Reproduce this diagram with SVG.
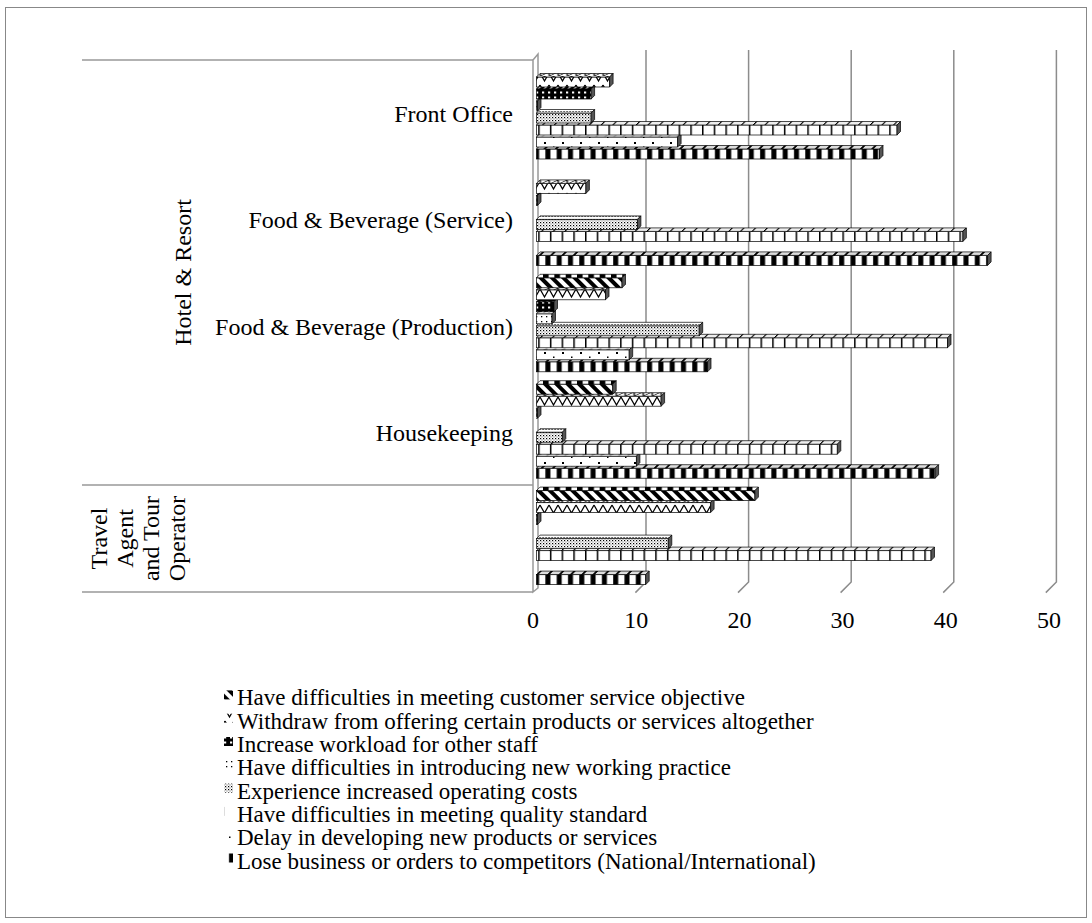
<svg xmlns="http://www.w3.org/2000/svg" width="1092" height="923" viewBox="0 0 1092 923">
<style>
text{font-family:"Liberation Serif","Times New Roman",serif;font-size:24px;fill:#000}
#legend text{font-size:23px}
.ax{stroke:#999;stroke-width:1.5;fill:none}
.grid{stroke:#8c8c8c;stroke-width:1.5;fill:none}
.bars rect,.bars path{stroke:#000;stroke-width:0.7}
.d{fill:#555}
.s1 rect{fill:url(#p1)} .s1 .t{fill:url(#p1t)}
.s2 rect{fill:url(#p2)} .s2 .t{fill:url(#p2t)}
.s3 rect{fill:url(#p3)} .s3 .t{fill:url(#p3t)}
.s4 rect{fill:url(#p4)} .s4 .t{fill:url(#p4t)}
.s5 rect{fill:url(#p5)} .s5 .t{fill:url(#p5t)}
.s6 rect{fill:url(#p6)} .s6 .t{fill:url(#p6t)}
.s7 rect{fill:url(#p7)} .s7 .t{fill:url(#p7t)}
.s8 rect{fill:url(#p8)} .s8 .t{fill:url(#p8t)}
</style>
<defs>
<pattern id="p1" patternUnits="userSpaceOnUse" width="8" height="8" patternTransform="rotate(-45)"><rect width="8" height="8" fill="#fff"/><rect width="4" height="8" fill="#000"/></pattern>
<pattern id="p1t" patternUnits="userSpaceOnUse" width="8" height="8" patternTransform="skewX(-45) rotate(-45)"><rect width="8" height="8" fill="#fff"/><rect width="4" height="8" fill="#000"/></pattern>
<pattern id="p2" patternUnits="userSpaceOnUse" width="9" height="12"><rect width="9" height="12" fill="#fff"/><path d="M0,1 L4.5,9 L9,1" stroke="#000" stroke-width="1.3" fill="none"/></pattern>
<pattern id="p2t" patternUnits="userSpaceOnUse" width="9" height="4" patternTransform="skewX(-45)"><rect width="9" height="4" fill="#fff"/><path d="M0,0 L4.5,4 L9,0" stroke="#000" stroke-width="1" fill="none"/></pattern>
<pattern id="p3" patternUnits="userSpaceOnUse" width="6" height="5"><rect width="6" height="5" fill="#000"/><rect x="2" y="1.5" width="2.2" height="2" fill="#fff"/></pattern>
<pattern id="p3t" patternUnits="userSpaceOnUse" width="6" height="5" patternTransform="skewX(-45)"><rect width="6" height="5" fill="#000"/><rect x="2" y="1.5" width="2.2" height="2" fill="#fff"/></pattern>
<pattern id="p4" patternUnits="userSpaceOnUse" width="5" height="5"><rect width="5" height="5" fill="#fff"/><rect x="1" y="1" width="1.3" height="1.3" fill="#000"/></pattern>
<pattern id="p4t" patternUnits="userSpaceOnUse" width="5" height="5" patternTransform="skewX(-45)"><rect width="5" height="5" fill="#fff"/><rect x="1" y="1" width="1.3" height="1.3" fill="#000"/></pattern>
<pattern id="p5" patternUnits="userSpaceOnUse" width="3" height="3"><rect width="3" height="3" fill="#fff"/><rect width="1.2" height="1.2" fill="#000"/><rect x="1.5" y="1.5" width="1" height="1" fill="#555"/></pattern>
<pattern id="p5t" patternUnits="userSpaceOnUse" width="3" height="3" patternTransform="skewX(-45)"><rect width="3" height="3" fill="#fff"/><rect width="1.2" height="1.2" fill="#000"/></pattern>
<pattern id="p6" patternUnits="userSpaceOnUse" width="11.7" height="20"><rect width="11.7" height="20" fill="#fff"/><rect width="1.5" height="20" fill="#000"/></pattern>
<pattern id="p6t" patternUnits="userSpaceOnUse" width="11.7" height="20" patternTransform="skewX(-45)"><rect width="11.7" height="20" fill="#eee"/><rect width="1.5" height="20" fill="#000"/></pattern>
<pattern id="p7" patternUnits="userSpaceOnUse" width="18" height="10"><rect width="18" height="10" fill="#fff"/><rect x="4" y="2" width="2" height="2" fill="#000"/><rect x="13" y="6.5" width="1.5" height="1.5" fill="#000"/></pattern>
<pattern id="p7t" patternUnits="userSpaceOnUse" width="9" height="4" patternTransform="skewX(-45)"><rect width="9" height="4" fill="#fff"/><circle cx="4" cy="2" r="1.2" fill="none" stroke="#000" stroke-width="0.6"/></pattern>
<pattern id="p8" patternUnits="userSpaceOnUse" width="11.3" height="20"><rect width="11.3" height="20" fill="#fff"/><rect x="3" width="5" height="20" fill="#000"/></pattern>
<pattern id="p8t" patternUnits="userSpaceOnUse" width="11.3" height="20" patternTransform="skewX(-45)"><rect width="11.3" height="20" fill="#ddd"/><rect x="3" width="2.5" height="20" fill="#000"/></pattern>
</defs>

<rect x="5.5" y="7.5" width="1081" height="910" fill="#fff" stroke="#888" stroke-width="1"/>

<g id="axes">
<path class="ax" d="M82,60 H533 M82,485 H533 M82,592 H533"/>
<path class="ax" d="M533,592 V60 L538,54 V588 Z" fill="#fff"/>
</g>
<g id="gridlines">
<path class="grid" d="M646,50 V582 L635.4,592.6 M748.6,50 V582 L738,592.6 M851.2,50 V582 L840.6,592.6 M953.8,50 V582 L943.2,592.6 M1056.4,50 V582 L1045.8,592.6"/>
</g>

<g id="category-labels" text-anchor="end">
<text x="513" y="122">Front Office</text>
<text x="513" y="228.4">Food &amp; Beverage (Service)</text>
<text x="513" y="334.8">Food &amp; Beverage (Production)</text>
<text x="513" y="441.2">Housekeeping</text>
</g>
<g id="group-labels" text-anchor="middle">
<text transform="translate(191,272.5) rotate(-90)">Hotel &amp; Resort</text>
<text transform="translate(107,538.5) rotate(-90)"><tspan x="0" y="0">Travel</tspan><tspan x="0" dy="26">Agent</tspan><tspan x="0" dy="26">and Tour</tspan><tspan x="0" dy="26">Operator</tspan></text>
</g>
<g id="value-labels" text-anchor="middle">
<text x="533" y="628">0</text>
<text x="636.2" y="628">10</text>
<text x="739.4" y="628">20</text>
<text x="842.6" y="628">30</text>
<text x="945.8" y="628">40</text>
<text x="1049" y="628">50</text>
</g>

<g id="bars" class="bars">
<!-- Travel Agent and Tour Operator -->
<g class="s8"><rect x="536.5" y="574.6" width="109.2" height="10"/><path class="t" d="M536.5,574.6 L540,571.1 L649.2,571.1 L645.7,574.6 Z"/><path class="d" d="M645.7,574.6 L649.2,571.1 L649.2,581.1 L645.7,584.6 Z"/></g>
<g class="s6"><rect x="536.5" y="550.6" width="394.5" height="10"/><path class="t" d="M536.5,550.6 L540,547.1 L934.5,547.1 L931,550.6 Z"/><path class="d" d="M931,550.6 L934.5,547.1 L934.5,557.1 L931,560.6 Z"/></g>
<g class="s5"><rect x="536.5" y="538.6" width="131.8" height="10"/><path class="t" d="M536.5,538.6 L540,535.1 L671.8,535.1 L668.3,538.6 Z"/><path class="d" d="M668.3,538.6 L671.8,535.1 L671.8,545.1 L668.3,548.6 Z"/></g>
<g class="s3"><rect x="536.5" y="514.6" width="1" height="10"/><path class="t" d="M536.5,514.6 L540,511.1 L541,511.1 L537.5,514.6 Z"/><path class="d" d="M537.5,514.6 L541,511.1 L541,521.1 L537.5,524.6 Z"/></g>
<g class="s2"><rect x="536.5" y="502.6" width="174.1" height="10"/><path class="t" d="M536.5,502.6 L540,499.1 L714.1,499.1 L710.6,502.6 Z"/><path class="d" d="M710.6,502.6 L714.1,499.1 L714.1,509.1 L710.6,512.6 Z"/></g>
<g class="s1"><rect x="536.5" y="490.6" width="218.4" height="10"/><path class="t" d="M536.5,490.6 L540,487.1 L758.4,487.1 L754.9,490.6 Z"/><path class="d" d="M754.9,490.6 L758.4,487.1 L758.4,497.1 L754.9,500.6 Z"/></g>
<!-- Housekeeping -->
<g class="s8"><rect x="536.5" y="468.2" width="398.6" height="10"/><path class="t" d="M536.5,468.2 L540,464.7 L938.6,464.7 L935.1,468.2 Z"/><path class="d" d="M935.1,468.2 L938.6,464.7 L938.6,474.7 L935.1,478.2 Z"/></g>
<g class="s7"><rect x="536.5" y="456.2" width="99.9" height="10"/><path class="t" d="M536.5,456.2 L540,452.7 L639.9,452.7 L636.4,456.2 Z"/><path class="d" d="M636.4,456.2 L639.9,452.7 L639.9,462.7 L636.4,466.2 Z"/></g>
<g class="s6"><rect x="536.5" y="444.2" width="300.8" height="10"/><path class="t" d="M536.5,444.2 L540,440.7 L840.8,440.7 L837.3,444.2 Z"/><path class="d" d="M837.3,444.2 L840.8,440.7 L840.8,450.7 L837.3,454.2 Z"/></g>
<g class="s5"><rect x="536.5" y="432.2" width="25.8" height="10"/><path class="t" d="M536.5,432.2 L540,428.7 L565.8,428.7 L562.3,432.2 Z"/><path class="d" d="M562.3,432.2 L565.8,428.7 L565.8,438.7 L562.3,442.2 Z"/></g>
<g class="s3"><rect x="536.5" y="408.2" width="1" height="10"/><path class="t" d="M536.5,408.2 L540,404.7 L541,404.7 L537.5,408.2 Z"/><path class="d" d="M537.5,408.2 L541,404.7 L541,414.7 L537.5,418.2 Z"/></g>
<g class="s2"><rect x="536.5" y="396.2" width="124.6" height="10"/><path class="t" d="M536.5,396.2 L540,392.7 L664.6,392.7 L661.1,396.2 Z"/><path class="d" d="M661.1,396.2 L664.6,392.7 L664.6,402.7 L661.1,406.2 Z"/></g>
<g class="s1"><rect x="536.5" y="384.2" width="76.2" height="10"/><path class="t" d="M536.5,384.2 L540,380.7 L616.2,380.7 L612.7,384.2 Z"/><path class="d" d="M612.7,384.2 L616.2,380.7 L616.2,390.7 L612.7,394.2 Z"/></g>
<!-- Food & Beverage (Production) -->
<g class="s8"><rect x="536.5" y="361.8" width="171" height="10"/><path class="t" d="M536.5,361.8 L540,358.3 L711,358.3 L707.5,361.8 Z"/><path class="d" d="M707.5,361.8 L711,358.3 L711,368.3 L707.5,371.8 Z"/></g>
<g class="s7"><rect x="536.5" y="349.8" width="92.7" height="10"/><path class="t" d="M536.5,349.8 L540,346.3 L632.7,346.3 L629.2,349.8 Z"/><path class="d" d="M629.2,349.8 L632.7,346.3 L632.7,356.3 L629.2,359.8 Z"/></g>
<g class="s6"><rect x="536.5" y="337.8" width="411" height="10"/><path class="t" d="M536.5,337.8 L540,334.3 L951,334.3 L947.5,337.8 Z"/><path class="d" d="M947.5,337.8 L951,334.3 L951,344.3 L947.5,347.8 Z"/></g>
<g class="s5"><rect x="536.5" y="325.8" width="162.7" height="10"/><path class="t" d="M536.5,325.8 L540,322.3 L702.7,322.3 L699.2,325.8 Z"/><path class="d" d="M699.2,325.8 L702.7,322.3 L702.7,332.3 L699.2,335.8 Z"/></g>
<g class="s4"><rect x="536.5" y="313.8" width="15.5" height="10"/><path class="t" d="M536.5,313.8 L540,310.3 L555.5,310.3 L552,313.8 Z"/><path class="d" d="M552,313.8 L555.5,310.3 L555.5,320.3 L552,323.8 Z"/></g>
<g class="s3"><rect x="536.5" y="301.8" width="17.5" height="10"/><path class="t" d="M536.5,301.8 L540,298.3 L557.5,298.3 L554,301.8 Z"/><path class="d" d="M554,301.8 L557.5,298.3 L557.5,308.3 L554,311.8 Z"/></g>
<g class="s2"><rect x="536.5" y="289.8" width="69" height="10"/><path class="t" d="M536.5,289.8 L540,286.3 L609,286.3 L605.5,289.8 Z"/><path class="d" d="M605.5,289.8 L609,286.3 L609,296.3 L605.5,299.8 Z"/></g>
<g class="s1"><rect x="536.5" y="277.8" width="85.5" height="10"/><path class="t" d="M536.5,277.8 L540,274.3 L625.5,274.3 L622,277.8 Z"/><path class="d" d="M622,277.8 L625.5,274.3 L625.5,284.3 L622,287.8 Z"/></g>
<!-- Food & Beverage (Service) -->
<g class="s8"><rect x="536.5" y="255.4" width="451.1" height="10"/><path class="t" d="M536.5,255.4 L540,251.9 L991.1,251.9 L987.6,255.4 Z"/><path class="d" d="M987.6,255.4 L991.1,251.9 L991.1,261.9 L987.6,265.4 Z"/></g>
<g class="s6"><rect x="536.5" y="231.4" width="426.4" height="10"/><path class="t" d="M536.5,231.4 L540,227.9 L966.4,227.9 L962.9,231.4 Z"/><path class="d" d="M962.9,231.4 L966.4,227.9 L966.4,237.9 L962.9,241.4 Z"/></g>
<g class="s5"><rect x="536.5" y="219.4" width="100.9" height="10"/><path class="t" d="M536.5,219.4 L540,215.9 L640.9,215.9 L637.4,219.4 Z"/><path class="d" d="M637.4,219.4 L640.9,215.9 L640.9,225.9 L637.4,229.4 Z"/></g>
<g class="s3"><rect x="536.5" y="195.4" width="1" height="10"/><path class="t" d="M536.5,195.4 L540,191.9 L541,191.9 L537.5,195.4 Z"/><path class="d" d="M537.5,195.4 L541,191.9 L541,201.9 L537.5,205.4 Z"/></g>
<g class="s2"><rect x="536.5" y="183.4" width="49.4" height="10"/><path class="t" d="M536.5,183.4 L540,179.9 L589.4,179.9 L585.9,183.4 Z"/><path class="d" d="M585.9,183.4 L589.4,179.9 L589.4,189.9 L585.9,193.4 Z"/></g>
<!-- Front Office -->
<g class="s8"><rect x="536.5" y="149" width="343" height="10"/><path class="t" d="M536.5,149 L540,145.5 L883,145.5 L879.5,149 Z"/><path class="d" d="M879.5,149 L883,145.5 L883,155.5 L879.5,159 Z"/></g>
<g class="s7"><rect x="536.5" y="137" width="141.1" height="10"/><path class="t" d="M536.5,137 L540,133.5 L681.1,133.5 L677.6,137 Z"/><path class="d" d="M677.6,137 L681.1,133.5 L681.1,143.5 L677.6,147 Z"/></g>
<g class="s6"><rect x="536.5" y="125" width="360.5" height="10"/><path class="t" d="M536.5,125 L540,121.5 L900.5,121.5 L897,125 Z"/><path class="d" d="M897,125 L900.5,121.5 L900.5,131.5 L897,135 Z"/></g>
<g class="s5"><rect x="536.5" y="113" width="54.6" height="10"/><path class="t" d="M536.5,113 L540,109.5 L594.6,109.5 L591.1,113 Z"/><path class="d" d="M591.1,113 L594.6,109.5 L594.6,119.5 L591.1,123 Z"/></g>
<g class="s4"><rect x="536.5" y="101" width="1" height="10"/><path class="t" d="M536.5,101 L540,97.5 L541,97.5 L537.5,101 Z"/><path class="d" d="M537.5,101 L541,97.5 L541,107.5 L537.5,111 Z"/></g>
<g class="s3"><rect x="536.5" y="89" width="54.6" height="10"/><path class="t" d="M536.5,89 L540,85.5 L594.6,85.5 L591.1,89 Z"/><path class="d" d="M591.1,89 L594.6,85.5 L594.6,95.5 L591.1,99 Z"/></g>
<g class="s2"><rect x="536.5" y="77" width="73.1" height="10"/><path class="t" d="M536.5,77 L540,73.5 L613.1,73.5 L609.6,77 Z"/><path class="d" d="M609.6,77 L613.1,73.5 L613.1,83.5 L609.6,87 Z"/></g>
</g>

<g id="legend">
<rect x="224" y="690.4" width="9" height="9" fill="url(#p1)"/><text x="237" y="705.4">Have difficulties in meeting customer service objective</text>
<rect x="224" y="713.7" width="9" height="9" fill="url(#p2)"/><text x="237" y="728.7">Withdraw from offering certain products or services altogether</text>
<rect x="224" y="737" width="9" height="9" fill="url(#p3)"/><text x="237" y="752">Increase workload for other staff</text>
<rect x="224" y="760.3" width="9" height="9" fill="url(#p4)"/><text x="237" y="775.3">Have difficulties in introducing new working practice</text>
<rect x="224" y="783.6" width="9" height="9" fill="url(#p5)"/><text x="237" y="798.6">Experience increased operating costs</text>
<rect x="224" y="806.9" width="9" height="9" fill="url(#p6)"/><text x="237" y="821.9">Have difficulties in meeting quality standard</text>
<rect x="224" y="830.2" width="9" height="9" fill="url(#p7)"/><text x="237" y="845.2">Delay in developing new products or services</text>
<rect x="224" y="853.5" width="9" height="9" fill="url(#p8)"/><text x="237" y="868.5">Lose business or orders to competitors (National/International)</text>
</g>
</svg>
